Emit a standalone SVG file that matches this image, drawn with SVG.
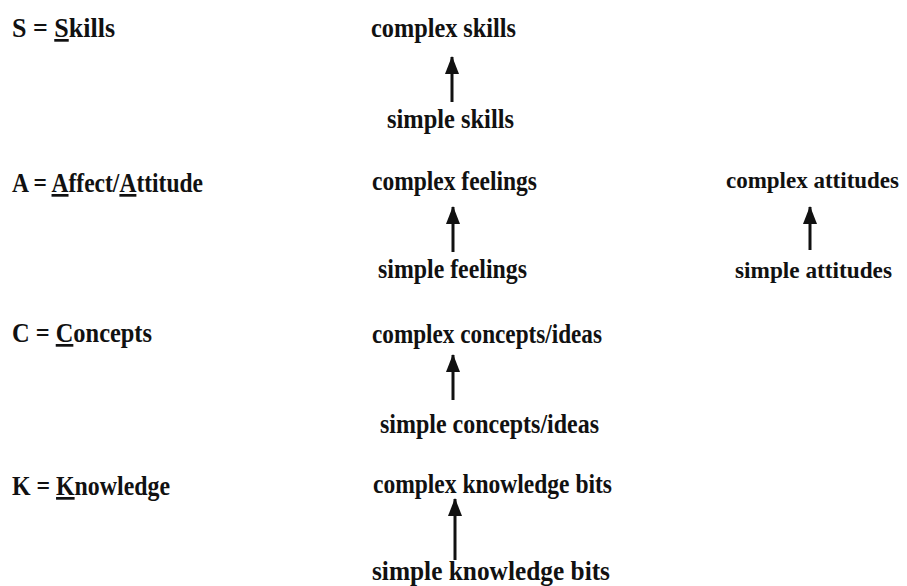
<svg xmlns="http://www.w3.org/2000/svg" width="907" height="586" viewBox="0 0 907 586">
<style>
text{font-family:"Liberation Serif","Times New Roman",serif;font-weight:bold;font-size:27px;fill:#111}
.sm{font-size:24px}
.u{text-decoration:underline}
.c{stroke:#111;stroke-width:3;fill:none}
</style>
<defs>
<marker id="ah" markerUnits="userSpaceOnUse" markerWidth="18" markerHeight="14" refX="17" refY="7" orient="auto" viewBox="0 0 18 14">
<path d="M18,7 L0,0 L0,14 Z" fill="#111"/>
</marker>
</defs>
<rect width="907" height="586" fill="#fff"/>
<g id="legend-s"><text x="12" y="37" textLength="103" lengthAdjust="spacingAndGlyphs">S = <tspan class="u">S</tspan>kills</text></g>
<g id="legend-a"><text x="12" y="192" textLength="191" lengthAdjust="spacingAndGlyphs">A = <tspan class="u">A</tspan>ffect/<tspan class="u">A</tspan>ttitude</text></g>
<g id="legend-c"><text x="12" y="342" textLength="140" lengthAdjust="spacingAndGlyphs">C = <tspan class="u">C</tspan>oncepts</text></g>
<g id="legend-k"><text x="12" y="495" textLength="158" lengthAdjust="spacingAndGlyphs">K = <tspan class="u">K</tspan>nowledge</text></g>

<g id="complex-skills"><text x="371" y="37" textLength="145" lengthAdjust="spacingAndGlyphs">complex skills</text></g>
<g id="simple-skills"><text x="387" y="128" textLength="127" lengthAdjust="spacingAndGlyphs">simple skills</text></g>
<g id="complex-feelings"><text x="372" y="190" textLength="165" lengthAdjust="spacingAndGlyphs">complex feelings</text></g>
<g id="simple-feelings"><text x="378" y="278" textLength="149" lengthAdjust="spacingAndGlyphs">simple feelings</text></g>
<g id="complex-attitudes"><text class="sm" x="726" y="188" textLength="173" lengthAdjust="spacingAndGlyphs">complex attitudes</text></g>
<g id="simple-attitudes"><text class="sm" x="735" y="278" textLength="157" lengthAdjust="spacingAndGlyphs">simple attitudes</text></g>
<g id="complex-concepts"><text x="372" y="343" textLength="230" lengthAdjust="spacingAndGlyphs">complex concepts/ideas</text></g>
<g id="simple-concepts"><text x="380" y="433" textLength="219" lengthAdjust="spacingAndGlyphs">simple concepts/ideas</text></g>
<g id="complex-knowledge"><text x="373" y="493" textLength="239" lengthAdjust="spacingAndGlyphs">complex knowledge bits</text></g>
<g id="simple-knowledge"><text x="372" y="580" textLength="238" lengthAdjust="spacingAndGlyphs">simple knowledge bits</text></g>

<g id="connectors">
<line class="c" x1="452" y1="102" x2="452" y2="57" marker-end="url(#ah)"/>
<line class="c" x1="453" y1="252" x2="453" y2="207" marker-end="url(#ah)"/>
<line class="c" x1="810" y1="250" x2="810" y2="207" marker-end="url(#ah)"/>
<line class="c" x1="453" y1="400" x2="453" y2="355" marker-end="url(#ah)"/>
<line class="c" x1="455" y1="560" x2="455" y2="499" marker-end="url(#ah)"/>
</g>
</svg>
